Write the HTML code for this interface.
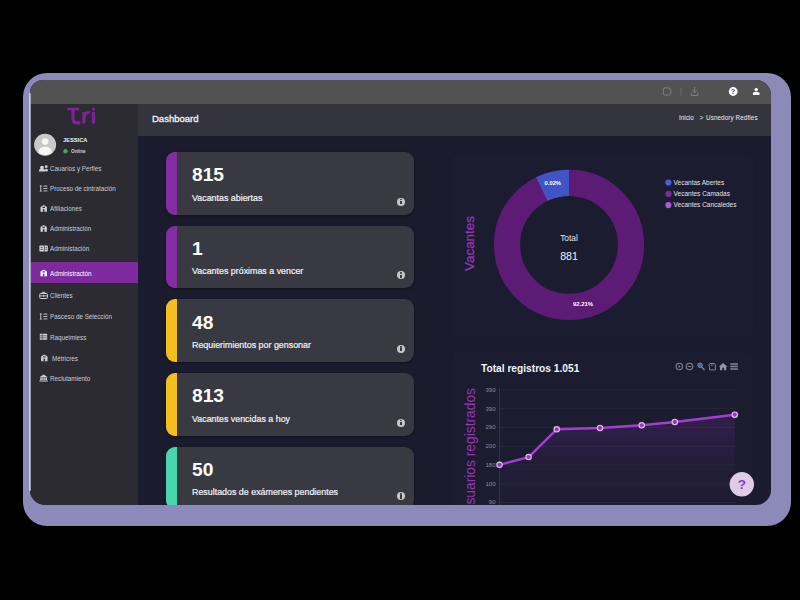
<!DOCTYPE html>
<html><head><meta charset="utf-8"><title>Dashboard</title>
<style>
*{margin:0;padding:0;box-sizing:border-box}
html,body{width:800px;height:600px;overflow:hidden;background:#000;font-family:"Liberation Sans",sans-serif}
#frame{position:absolute;left:23.2px;top:73px;width:767.5px;height:452.5px;border-radius:24px;background:#8c8ab9}
#screen{position:absolute;left:30px;top:79.5px;width:741px;height:425.7px;border-radius:13px 15px 15px 15px;overflow:hidden;background:#1b1b2e}
#edge{position:absolute;left:29.2px;top:92.5px;width:2px;height:398px;background:linear-gradient(90deg,#e4e4ee,#8e8e9c);border-radius:1px}
#topbar{position:absolute;left:0;top:0;width:741px;height:24.5px;background:#525252}
#sidebar{position:absolute;left:0;top:24.5px;width:107.5px;height:401px;background:#2b2b31}
#header{position:absolute;left:107.5px;top:24.5px;width:634px;height:32px;background:#34353c}
.t{position:absolute;white-space:nowrap;line-height:1}
.card{position:absolute;left:136px;width:248px;height:62.5px;box-shadow:0 1px 3px rgba(0,0,0,.35);border-radius:9px;background:#393a41;overflow:hidden}
.card .band{position:absolute;left:0;top:0;width:11px;height:100%}
.card .num{position:absolute;left:26px;top:13.4px;font-size:19.2px;font-weight:bold;color:#fff;line-height:20px;white-space:nowrap}
.card .lbl{position:absolute;left:26px;top:40.5px;font-size:8.9px;color:#f2f2f5;line-height:10px;white-space:nowrap;-webkit-text-stroke:0.2px #f2f2f5}
.card .info{position:absolute;left:231px;top:45.5px;width:8px;height:8px;border-radius:50%;background:#c8c8cc}
.card .info:before{content:"";position:absolute;left:3.2px;top:1.3px;width:1.6px;height:1.6px;background:#3a3a40;border-radius:50%}
.card .info:after{content:"";position:absolute;left:3.2px;top:3.4px;width:1.6px;height:3.2px;background:#3a3a40}
.panel{position:absolute;border-radius:7px;background:#1c1c30;box-shadow:0 0 0 1px #1a1a2c}
.mi{position:absolute;left:20px;font-size:26px;color:#c6c6cf;white-space:nowrap;line-height:32px;transform:scale(0.242,0.262);transform-origin:0 0}
svg{position:absolute;overflow:visible}
</style></head><body>
<div id="frame"></div>
<div id="screen">
<div id="topbar"></div><div id="sidebar"></div><div id="header"></div>
<svg width="741" height="25" style="left:0;top:0" viewBox="0 0 741 25">
<g fill="none" stroke="#7f7f83" stroke-width="1" stroke-linejoin="round" stroke-linecap="round">
<path d="M634.6 7.9 h4.2 q1.2 0 1.2 1.2 v0.8 h0.8 v3.2 h-0.8 v0.8 q0 1.2 -1.2 1.2 h-4.2 q-1.2 0 -1.2 -1.2 v-4.8 q0 -1.2 1.2 -1.2z"/>
<path d="M651 8.0 v7" stroke="#6a6a6e"/>
<path d="M664.6 7.3 v5.4 M662.4 10.5 l2.2 2.2 l2.2 -2.2 M661.4 13.1 v2.4 h6.4 v-2.4"/>
</g>
<circle cx="703.2" cy="11.5" r="4.4" fill="#fff"/>
<text x="703.2" y="13.9" font-family="Liberation Sans" font-size="6.8" font-weight="bold" fill="#444" text-anchor="middle">?</text>
<circle cx="726.2" cy="9.6" r="1.7" fill="#fff"/>
<path d="M722.9 14.9 v-1.2 q0 -1.9 3.3 -1.9 q3.3 0 3.3 1.9 v1.2z" fill="#fff"/>
</svg>
<div class="t" style="left:122px;top:34.55px;font-size:9.5px;color:#f4f4f6;-webkit-text-stroke:0.3px #f4f4f6">Dashboard</div>
<div class="t" style="left:649px;top:35.3px;font-size:6.3px;color:#ececf0;">Inicio</div>
<div class="t" style="left:669.5px;top:35.1px;font-size:6.6px;color:#ececf0;">&gt;</div>
<div class="t" style="left:676px;top:35.3px;font-size:6.3px;color:#ececf0;letter-spacing:0.1px">Usnedory Redfies</div>
<svg width="108" height="60" style="left:0;top:20.5px" viewBox="30 100 108 60">
<g fill="none" stroke="#82229b" stroke-width="3.2" stroke-linecap="butt" stroke-linejoin="round">
<path d="M68.4 109 H78" stroke-width="2.6" stroke-linecap="round"/>
<path d="M73 109 V118.4 Q73 122.8 77.4 122.8 H80.4"/>
<path d="M83.9 112 V123.6"/>
<path d="M83.9 117.6 Q84 112.3 89.9 112.4" stroke-width="2.9"/>
<path d="M93.5 112 V123.6"/>
</g>
<circle cx="93.5" cy="109.1" r="1.55" fill="#82229b"/>
<circle cx="45.1" cy="144.7" r="11" fill="#c9c9cb"/>
<circle cx="45.1" cy="141.6" r="3.3" fill="#f6f6f6"/>
<path d="M38.4 152.8 q0 -6 6.7 -6 q6.7 0 6.7 6 q-3 2.4 -6.7 2.4 q-3.7 0 -6.7 -2.4z" fill="#f6f6f6"/>
<circle cx="65.5" cy="151.3" r="2.2" fill="#3fae49"/>
</svg>
<div class="t" style="left:32.8px;top:57.5px;font-size:22.8px;font-weight:bold;color:#f2f2f4;transform:scale(0.25);transform-origin:0 0">JESSICA</div>
<div class="t" style="left:40.6px;top:69.39999999999999px;font-size:18.8px;font-weight:bold;color:#cfcfd4;transform:scale(0.25);transform-origin:0 0">Online</div>
<div style="position:absolute;left:0;top:182.5px;width:107.5px;height:21px;background:#7e2a9e"></div>
<div class="mi" style="left:20px;top:84.9px;color:#cdcdd5">Cauarios y Perfles</div>
<div class="mi" style="left:20px;top:104.9px;color:#cdcdd5">Proceso de cintratación</div>
<div class="mi" style="left:20px;top:124.9px;color:#cdcdd5">Afiliaciones</div>
<div class="mi" style="left:20px;top:144.9px;color:#cdcdd5">Administración</div>
<div class="mi" style="left:20px;top:164.9px;color:#cdcdd5">Administación</div>
<div class="mi" style="left:20px;top:189.4px;color:#ffffff">Administractón</div>
<div class="mi" style="left:20px;top:211.9px;color:#cdcdd5">Clientes</div>
<div class="mi" style="left:20px;top:232.9px;color:#cdcdd5">Pasceso de Selección</div>
<div class="mi" style="left:20px;top:253.20000000000002px;color:#cdcdd5">Raqueimiess</div>
<div class="mi" style="left:21.5px;top:274.4px;color:#cdcdd5">Métricres</div>
<div class="mi" style="left:20px;top:294.4px;color:#cdcdd5">Reclutamiento</div>
<svg width="108" height="425" style="left:0;top:0" viewBox="30 79.5 108 425"><circle cx="42" cy="167.1" r="1.9" fill="#d0d0d6"/><path d="M38.8 171.1 q0 -3 3.2 -3 q3.2 0 3.2 3z" fill="#d0d0d6"/><circle cx="46.2" cy="166.2" r="1.4" fill="#d0d0d6"/><circle cx="46.4" cy="169.7" r="1.4" fill="#d0d0d6"/><g stroke="#d0d0d6" stroke-width="0.9" fill="none"><path d="M40.8 185.4v5.2 M39.8 185.4h2 M39.8 190.6h2 M43.4 185.6h4 M43.4 188h4 M43.4 190.4h4"/></g><path d="M40.5 211.3 v-4.8 l3.2 -2.1 l3.2 2.1 v4.8z" fill="#d0d0d6"/><path d="M42.9 211.3 v-2.6 h1.6 v2.6z M42.5 206.3 h2.4 v1.3 h-2.4z" fill="#2b2b31"/><path d="M40.5 231.3 v-4.8 l3.2 -2.1 l3.2 2.1 v4.8z" fill="#d0d0d6"/><path d="M42.9 231.3 v-2.6 h1.6 v2.6z M42.5 226.3 h2.4 v1.3 h-2.4z" fill="#2b2b31"/><rect x="39.4" y="245.1" width="8.4" height="5.8" rx="0.7" fill="#d0d0d6"/><path d="M40.6 246.8h2.2 M40.6 248.9h2.2 M44.4 245.1v5.8 M45.6 247.1h1.2 M45.6 248.9h1.2" stroke="#2b2b31" stroke-width="0.7"/><path d="M40.5 275.8 v-4.8 l3.2 -2.1 l3.2 2.1 v4.8z" fill="#ffffff"/><path d="M42.9 275.8 v-2.6 h1.6 v2.6z M42.5 270.8 h2.4 v1.3 h-2.4z" fill="#7e2a9e"/><rect x="39.8" y="293" width="7.6" height="5" rx="0.8" fill="none" stroke="#d0d0d6" stroke-width="1"/><path d="M42.2 293v-1.2h2.8v1.2 M39.8 295.4h7.6 M43.6 294.4v2" stroke="#d0d0d6" stroke-width="0.9" fill="none"/><g stroke="#d0d0d6" stroke-width="0.9" fill="none"><path d="M40.8 313.4v5.2 M39.8 313.4h2 M39.8 318.6h2 M43.4 313.6h4 M43.4 316h4 M43.4 318.4h4"/></g><rect x="39.8" y="333.3" width="7.4" height="6" rx="0.5" fill="#d0d0d6"/><path d="M39.8 335.3h7.4 M39.8 337.3h7.4 M42.2 333.3v6" stroke="#2b2b31" stroke-width="0.6"/><path d="M41.1 360.8 v-4.8 l3.2 -2.1 l3.2 2.1 v4.8z" fill="#d0d0d6"/><path d="M43.5 360.8 v-2.6 h1.6 v2.6z M43.1 355.8 h2.4 v1.3 h-2.4z" fill="#2b2b31"/><path d="M39.4 376.7 l4.2 -2.6 l4.2 2.6z M40.2 377.3h6.8v2.2h-6.8z M39.4 379.9h8.4v1h-8.4z" fill="#d0d0d6"/><path d="M42 377.5v2 M43.6 377.5v2 M45.2 377.5v2" stroke="#2b2b31" stroke-width="0.5"/></svg>
<div class="card" style="top:72.5px"><div class="band" style="background:#832ca3"></div><div class="num">815</div><div class="lbl">Vacantas abiertas</div><div class="info"></div></div>
<div class="card" style="top:146.2px"><div class="band" style="background:#832ca3"></div><div class="num">1</div><div class="lbl">Vacantes próximas a vencer</div><div class="info"></div></div>
<div class="card" style="top:219.9px"><div class="band" style="background:#f2bf1e"></div><div class="num">48</div><div class="lbl">Requierimientos por gensonar</div><div class="info"></div></div>
<div class="card" style="top:293.5px"><div class="band" style="background:#f2bf1e"></div><div class="num">813</div><div class="lbl">Vacantes vencidas a hoy</div><div class="info"></div></div>
<div class="card" style="top:367.0px"><div class="band" style="background:#48d6ac"></div><div class="num">50</div><div class="lbl">Resultados de exámenes pendientes</div><div class="info"></div></div>
<div class="panel" style="left:420.5px;top:74.0px;width:303px;height:184px"></div>
<div class="panel" style="left:420.5px;top:272.0px;width:302px;height:184px"></div>
<svg width="741" height="425" style="left:0;top:0" viewBox="30 79.5 741 425">
<circle cx="569" cy="244.3" r="62.0" fill="none" stroke="#5c1c75" stroke-width="26.199999999999996"/>
<path d="M541.82 188.57 A62.0 62.0 0 0 1 569.00 182.30" fill="none" stroke="#3f55c6" stroke-width="26.199999999999996"/>
<g font-family="Liberation Sans" text-anchor="middle" fill="#fff">
<text x="552.8" y="184.1" font-size="5.8" font-weight="bold">0.02%</text>
<text x="583" y="305.3" font-size="5.9" font-weight="bold">92.21%</text>
<text x="569" y="240.6" font-size="8.4" fill="#e6e6ea">Total</text>
<text x="569" y="259" font-size="10.6" fill="#f2f2f4">881</text>
</g>
<text transform="translate(474,243) rotate(-90)" font-family="Liberation Sans" font-size="13.4" fill="#9a34b6" stroke="#9a34b6" stroke-width="0.25" text-anchor="middle">Vacantes</text>
<circle cx="668.4" cy="182" r="3.1" fill="#4a5fd0"/>
<circle cx="668.4" cy="193.4" r="3.1" fill="#7a2a9c"/>
<circle cx="668.4" cy="204.6" r="3.1" fill="#b256e0"/>
<g font-family="Liberation Sans" font-size="6.5" fill="#e2e2e8">
<text x="673.6" y="184.3">Vecantas Abertes</text>
<text x="673.6" y="195.7">Vecantes Camadas</text>
<text x="673.6" y="206.9">Vecantes Cancaledes</text>
</g>
</svg>
<svg width="741" height="425" style="left:0;top:0" viewBox="30 79.5 741 425">
<defs><linearGradient id="ag" x1="0" y1="0" x2="0" y2="1"><stop offset="0" stop-color="#7a2aa8" stop-opacity="0.24"/><stop offset="0.55" stop-color="#7a2aa8" stop-opacity="0.06"/><stop offset="1" stop-color="#7a2aa8" stop-opacity="0.01"/></linearGradient></defs>
<path d="M499.5 389.5H736" stroke="#2b2b3d" stroke-width="0.8"/><text x="495.5" y="391.3" font-size="6" fill="#8e8e9a" text-anchor="end" font-family="Liberation Sans">390</text><path d="M499.5 408.2H736" stroke="#2b2b3d" stroke-width="0.8"/><text x="495.5" y="410.0" font-size="6" fill="#8e8e9a" text-anchor="end" font-family="Liberation Sans">390</text><path d="M499.5 427H736" stroke="#2b2b3d" stroke-width="0.8"/><text x="495.5" y="428.8" font-size="6" fill="#8e8e9a" text-anchor="end" font-family="Liberation Sans">290</text><path d="M499.5 445.8H736" stroke="#2b2b3d" stroke-width="0.8"/><text x="495.5" y="447.6" font-size="6" fill="#8e8e9a" text-anchor="end" font-family="Liberation Sans">200</text><path d="M499.5 464.5H736" stroke="#2b2b3d" stroke-width="0.8"/><text x="495.5" y="466.3" font-size="6" fill="#8e8e9a" text-anchor="end" font-family="Liberation Sans">180</text><path d="M499.5 483.3H736" stroke="#2b2b3d" stroke-width="0.8"/><text x="495.5" y="485.1" font-size="6" fill="#8e8e9a" text-anchor="end" font-family="Liberation Sans">100</text><path d="M499.5 502H736" stroke="#2b2b3d" stroke-width="0.8"/><text x="495.5" y="503.8" font-size="6" fill="#8e8e9a" text-anchor="end" font-family="Liberation Sans">90</text>
<path d="M499.5 387.5V506" stroke="#432859" stroke-width="1"/>
<path d="M499.5 464.3 L528.6 456.6 L556.7 428.8 L600 427.5 L641.7 424.8 L674.8 421.5 L734.8 414.2 L734.8 506 L499.5 506z" fill="url(#ag)"/>
<polyline points="499.5,464.3 528.6,456.6 556.7,428.8 600,427.5 641.7,424.8 674.8,421.5 734.8,414.2" fill="none" stroke="#a23fd2" stroke-width="2.4" stroke-linejoin="round" stroke-linecap="round"/>
<circle cx="499.5" cy="464.3" r="2.7" fill="#9a38c4" stroke="#dcc8e4" stroke-width="1.1"/><circle cx="528.6" cy="456.6" r="2.7" fill="#9a38c4" stroke="#dcc8e4" stroke-width="1.1"/><circle cx="556.7" cy="428.8" r="2.7" fill="#9a38c4" stroke="#dcc8e4" stroke-width="1.1"/><circle cx="600" cy="427.5" r="2.7" fill="#9a38c4" stroke="#dcc8e4" stroke-width="1.1"/><circle cx="641.7" cy="424.8" r="2.7" fill="#9a38c4" stroke="#dcc8e4" stroke-width="1.1"/><circle cx="674.8" cy="421.5" r="2.7" fill="#9a38c4" stroke="#dcc8e4" stroke-width="1.1"/><circle cx="734.8" cy="414.2" r="2.7" fill="#9a38c4" stroke="#dcc8e4" stroke-width="1.1"/>
<circle cx="679.3" cy="366" r="3.2" fill="none" stroke="#82828e" stroke-width="1.1"/><circle cx="679.3" cy="366" r="1" fill="#82828e"/><circle cx="689.5" cy="366" r="3.2" fill="none" stroke="#82828e" stroke-width="1.1"/><path d="M687.9 366h3.2" stroke="#82828e" stroke-width="1.1"/><circle cx="700" cy="364.8" r="2.3" fill="#3f66b5" stroke="#82828e" stroke-width="0.9"/><path d="M701.8 366.8l2.4 2.4" stroke="#82828e" stroke-width="1.3" stroke-linecap="round"/><path d="M709.6 369.4v-3.2l-0.8 -1.4l1.2 -1.8h4.2q1.2 0 1.2 1.2v5.2z" fill="none" stroke="#82828e" stroke-width="1"/><path d="M711.4 363.2v2.2M713 363.2v2.2" stroke="#82828e" stroke-width="0.7"/><path d="M718.8 366.3l4.3 -3.9l4.3 3.9h-1.2v3.4h-2.2v-2.4h-1.8v2.4h-2.2v-3.4z" fill="#9494a0"/><path d="M730.3 363.5h7.6M730.3 366h7.6M730.3 368.5h7.6" stroke="#878793" stroke-width="1.3"/>
<text x="481" y="371.2" font-family="Liberation Sans" font-size="10.2" font-weight="bold" fill="#f4f4f6">Total registros 1.051</text>
<text transform="translate(474.6,387.5) rotate(-90)" font-family="Liberation Sans" font-size="13.8" fill="#9a34b6" text-anchor="end">Usuarios registrados</text>
<circle cx="741.8" cy="483.8" r="12.2" fill="#dfcbe6"/>
<text x="741.8" y="488.6" font-family="Liberation Sans" font-size="13.5" font-weight="bold" fill="#9636d0" text-anchor="middle">?</text>
</svg>
</div>
<div id="edge"></div>
</body></html>
